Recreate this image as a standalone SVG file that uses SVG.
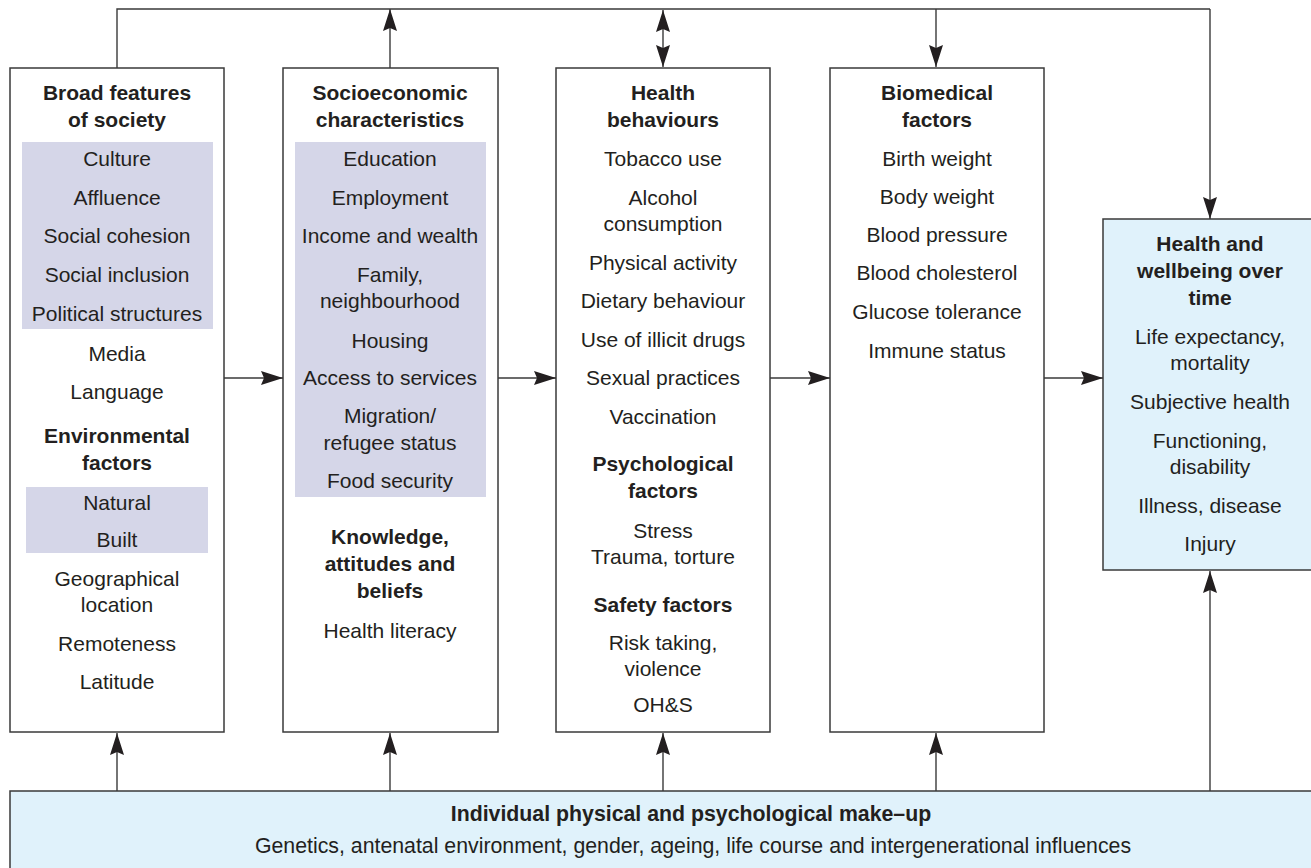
<svg xmlns="http://www.w3.org/2000/svg" width="1311" height="868" viewBox="0 0 1311 868">
  <style>
    .box { fill: #ffffff; stroke: #3a3a3a; stroke-width: 1.5; }
    .outcome { fill: #e0f2fb; stroke: #3a3a3a; stroke-width: 1.5; }
    .shade { fill: #d5d6e8; }
    .link { fill: none; stroke: #3a3a3a; stroke-width: 1.4; }
    text { font-family: "Liberation Sans", Arial, Helvetica, sans-serif; font-size: 21px; fill: #231f20; text-anchor: middle; }
    .h { font-weight: bold; }
    .wide { font-size: 21.3px; }
  </style>
  <defs>
    <marker id="arrow" viewBox="0 0 22 14" refX="22" refY="7" markerWidth="22" markerHeight="14" markerUnits="userSpaceOnUse" orient="auto-start-reverse">
      <path d="M0,0 L22,7 L0,14 L3,7 Z" fill="#231f20"/>
    </marker>
  </defs>

  <!-- column 1 -->
  <g id="broad-features">
    <rect class="box" x="10" y="68" width="214" height="664"/>
    <rect class="shade" x="22" y="142" width="191" height="187"/>
    <rect class="shade" x="26" y="487" width="182" height="66"/>
    <text class="h" x="117" y="100">Broad features</text>
    <text class="h" x="117" y="127">of society</text>
    <text x="117" y="166">Culture</text>
    <text x="117" y="205">Affluence</text>
    <text x="117" y="243">Social cohesion</text>
    <text x="117" y="282">Social inclusion</text>
    <text x="117" y="321">Political structures</text>
    <text x="117" y="361">Media</text>
    <text x="117" y="399">Language</text>
    <text class="h" x="117" y="443">Environmental</text>
    <text class="h" x="117" y="470">factors</text>
    <text x="117" y="510">Natural</text>
    <text x="117" y="547">Built</text>
    <text x="117" y="586">Geographical</text>
    <text x="117" y="612">location</text>
    <text x="117" y="651">Remoteness</text>
    <text x="117" y="689">Latitude</text>
  </g>

  <!-- column 2 -->
  <g id="socioeconomic">
    <rect class="box" x="283" y="68" width="215" height="664"/>
    <rect class="shade" x="295" y="142" width="191" height="355"/>
    <text class="h" x="390" y="100">Socioeconomic</text>
    <text class="h" x="390" y="127">characteristics</text>
    <text x="390" y="166">Education</text>
    <text x="390" y="205">Employment</text>
    <text x="390" y="243">Income and wealth</text>
    <text x="390" y="282">Family,</text>
    <text x="390" y="308">neighbourhood</text>
    <text x="390" y="348">Housing</text>
    <text x="390" y="385">Access to services</text>
    <text x="390" y="423">Migration/</text>
    <text x="390" y="450">refugee status</text>
    <text x="390" y="488">Food security</text>
    <text class="h" x="390" y="544">Knowledge,</text>
    <text class="h" x="390" y="571">attitudes and</text>
    <text class="h" x="390" y="598">beliefs</text>
    <text x="390" y="638">Health literacy</text>
  </g>

  <!-- column 3 -->
  <g id="health-behaviours">
    <rect class="box" x="556" y="68" width="214" height="664"/>
    <text class="h" x="663" y="100">Health</text>
    <text class="h" x="663" y="127">behaviours</text>
    <text x="663" y="166">Tobacco use</text>
    <text x="663" y="205">Alcohol</text>
    <text x="663" y="231">consumption</text>
    <text x="663" y="270">Physical activity</text>
    <text x="663" y="308">Dietary behaviour</text>
    <text x="663" y="347">Use of illicit drugs</text>
    <text x="663" y="385">Sexual practices</text>
    <text x="663" y="424">Vaccination</text>
    <text class="h" x="663" y="471">Psychological</text>
    <text class="h" x="663" y="498">factors</text>
    <text x="663" y="538">Stress</text>
    <text x="663" y="564">Trauma, torture</text>
    <text class="h" x="663" y="612">Safety factors</text>
    <text x="663" y="650">Risk taking,</text>
    <text x="663" y="676">violence</text>
    <text x="663" y="712">OH&amp;S</text>
  </g>

  <!-- column 4 -->
  <g id="biomedical">
    <rect class="box" x="830" y="68" width="214" height="664"/>
    <text class="h" x="937" y="100">Biomedical</text>
    <text class="h" x="937" y="127">factors</text>
    <text x="937" y="166">Birth weight</text>
    <text x="937" y="204">Body weight</text>
    <text x="937" y="242">Blood pressure</text>
    <text x="937" y="280">Blood cholesterol</text>
    <text x="937" y="319">Glucose tolerance</text>
    <text x="937" y="358">Immune status</text>
  </g>

  <!-- outcomes -->
  <g id="health-wellbeing">
    <rect class="outcome" x="1103" y="219" width="218" height="351"/>
    <text class="h" x="1210" y="251">Health and</text>
    <text class="h" x="1210" y="278">wellbeing over</text>
    <text class="h" x="1210" y="305">time</text>
    <text x="1210" y="344">Life expectancy,</text>
    <text x="1210" y="370">mortality</text>
    <text x="1210" y="409">Subjective health</text>
    <text x="1210" y="448">Functioning,</text>
    <text x="1210" y="474">disability</text>
    <text x="1210" y="513">Illness, disease</text>
    <text x="1210" y="551">Injury</text>
  </g>

  <!-- base layer -->
  <g id="individual-makeup">
    <rect class="outcome" x="10" y="791" width="1311" height="90"/>
    <text class="h wide" x="691" y="821">Individual physical and psychological make–up</text>
    <text class="wide" x="693" y="853">Genetics, antenatal environment, gender, ageing, life course and intergenerational influences</text>
  </g>

  <g id="connectors">
    <!-- feedback loop across the top -->
    <path class="link" d="M117,68 V9 H1210"/>
    <path class="link" d="M1210,9 V219" marker-end="url(#arrow)"/>
    <path class="link" d="M390,68 V9" marker-end="url(#arrow)"/>
    <path class="link" d="M663,10 V67" marker-start="url(#arrow)" marker-end="url(#arrow)"/>
    <path class="link" d="M936,9 V67" marker-end="url(#arrow)"/>
    <!-- left-to-right flow -->
    <path class="link" d="M224,378 H283" marker-end="url(#arrow)"/>
    <path class="link" d="M498,378 H556" marker-end="url(#arrow)"/>
    <path class="link" d="M770,378 H830" marker-end="url(#arrow)"/>
    <path class="link" d="M1044,378 H1103" marker-end="url(#arrow)"/>
    <!-- from the base layer -->
    <path class="link" d="M117,791 V733" marker-end="url(#arrow)"/>
    <path class="link" d="M390,791 V733" marker-end="url(#arrow)"/>
    <path class="link" d="M663,791 V733" marker-end="url(#arrow)"/>
    <path class="link" d="M936,791 V733" marker-end="url(#arrow)"/>
    <path class="link" d="M1210,791 V571" marker-end="url(#arrow)"/>
  </g>
</svg>
